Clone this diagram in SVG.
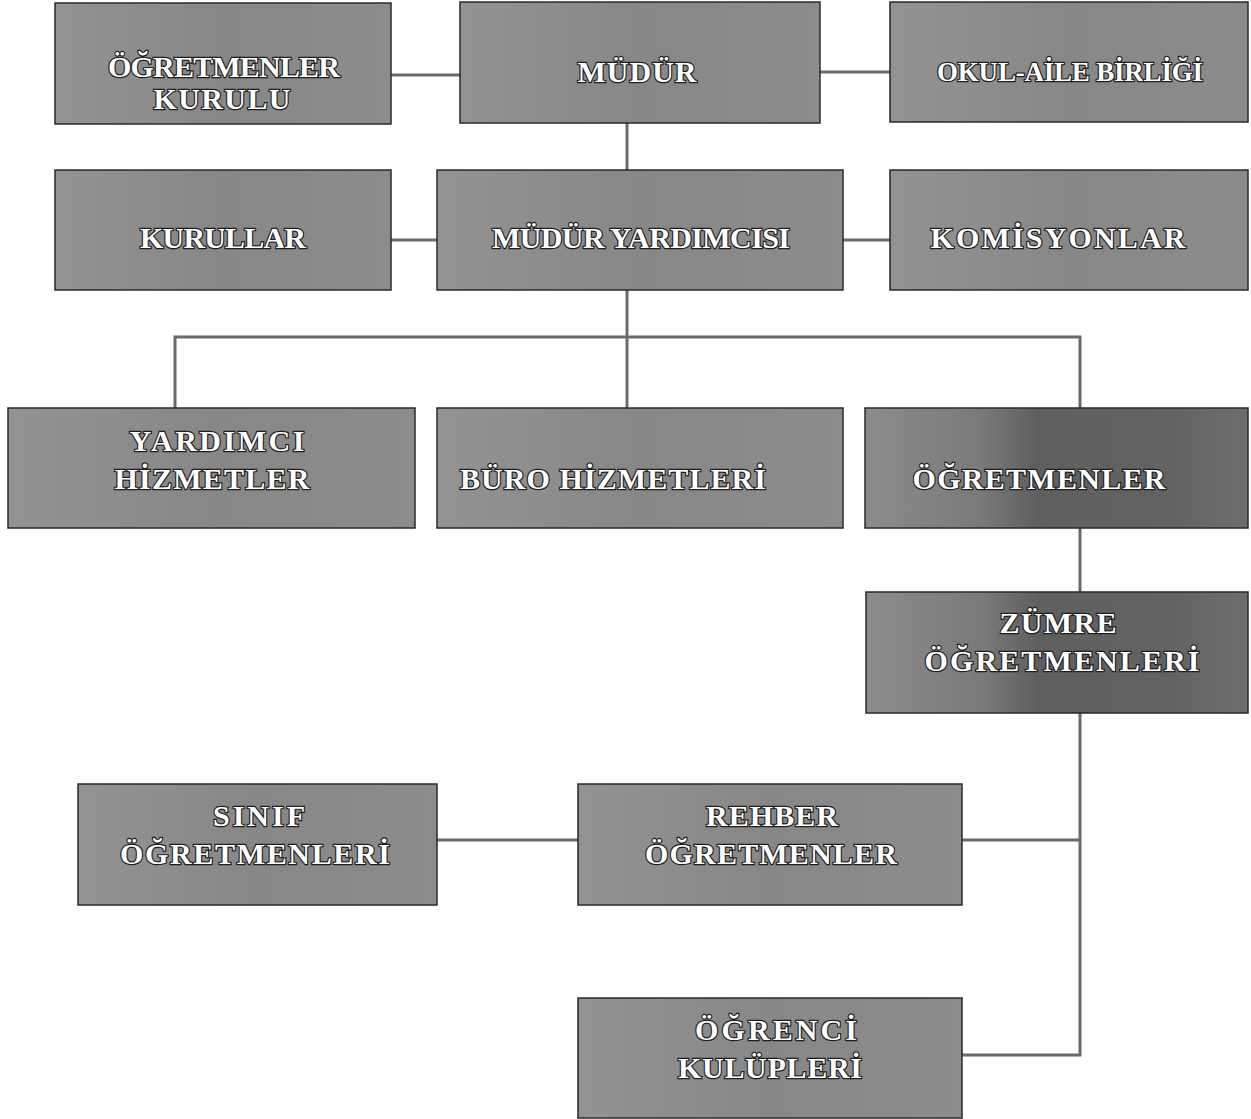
<svg xmlns="http://www.w3.org/2000/svg" width="1251" height="1119" viewBox="0 0 1251 1119">
<defs>
<linearGradient id="dark" x1="0" y1="0" x2="1" y2="0">
<stop offset="0" stop-color="#8c8c8c"/>
<stop offset="0.3" stop-color="#7a7a7a"/>
<stop offset="0.45" stop-color="#5f5f5f"/>
<stop offset="0.8" stop-color="#636363"/>
<stop offset="1" stop-color="#6e6e6e"/>
</linearGradient>
<linearGradient id="mid" x1="0" y1="0" x2="1" y2="0">
<stop offset="0" stop-color="#939393"/>
<stop offset="0.5" stop-color="#878787"/>
<stop offset="1" stop-color="#8c8c8c"/>
</linearGradient>
</defs>
<style>
.box{fill:url(#mid);stroke:#2a2a2a;stroke-width:1.5}
.dbox{fill:url(#dark);stroke:#2a2a2a;stroke-width:1.5}
.t{font-family:"Liberation Serif","Times New Roman",serif;font-weight:bold;font-size:30px;fill:#ffffff;stroke:#1e1e1e;stroke-width:2.4;paint-order:stroke fill;text-anchor:middle}
.c{fill:none;stroke:#6a6a6a;stroke-width:3}
</style>
<rect width="1251" height="1119" fill="#ffffff"/>
<g id="connectors">
<line class="c" x1="391" y1="75" x2="460" y2="75"/>
<line class="c" x1="820" y1="72" x2="890" y2="72"/>
<line class="c" x1="627" y1="123" x2="627" y2="170"/>
<line class="c" x1="391" y1="240" x2="437" y2="240"/>
<line class="c" x1="843" y1="240" x2="890" y2="240"/>
<line class="c" x1="627" y1="290" x2="627" y2="408"/>
<polyline class="c" points="175,408 175,337 1080,337 1080,408"/>
<line class="c" x1="1080" y1="528" x2="1080" y2="592"/>
<polyline class="c" points="1080,713 1080,1055 962,1055"/>
<line class="c" x1="962" y1="840" x2="1080" y2="840"/>
<line class="c" x1="437" y1="840" x2="578" y2="840"/>
</g>
<g id="ogretmenler-kurulu">
<rect class="box" x="55" y="3" width="336" height="121"/>
<text class="t" x="224" y="77" textLength="232" lengthAdjust="spacing">ÖĞRETMENLER</text>
<text class="t" x="222" y="109" textLength="137" lengthAdjust="spacing">KURULU</text>
</g>
<g id="mudur">
<rect class="box" x="460" y="2" width="360" height="121"/>
<text class="t" x="637" y="82" textLength="119" lengthAdjust="spacing">MÜDÜR</text>
</g>
<g id="okul-aile-birligi">
<rect class="box" x="890" y="2" width="358" height="120"/>
<text class="t" x="1070" y="81" textLength="266" lengthAdjust="spacing" style="font-size:27px">OKUL-AİLE BİRLİĞİ</text>
</g>
<g id="kurullar">
<rect class="box" x="55" y="170" width="336" height="120"/>
<text class="t" x="223" y="248" textLength="166" lengthAdjust="spacing">KURULLAR</text>
</g>
<g id="mudur-yardimcisi">
<rect class="box" x="437" y="170" width="406" height="120"/>
<text class="t" x="641" y="248" textLength="298" lengthAdjust="spacing">MÜDÜR YARDIMCISI</text>
</g>
<g id="komisyonlar">
<rect class="box" x="890" y="170" width="358" height="120"/>
<text class="t" x="1058" y="248" textLength="255" lengthAdjust="spacing">KOMİSYONLAR</text>
</g>
<g id="yardimci-hizmetler">
<rect class="box" x="8" y="408" width="407" height="120"/>
<text class="t" x="217" y="451" textLength="175" lengthAdjust="spacing">YARDIMCI</text>
<text class="t" x="212" y="489" textLength="195" lengthAdjust="spacing">HİZMETLER</text>
</g>
<g id="buro-hizmetleri">
<rect class="box" x="437" y="408" width="406" height="120"/>
<text class="t" x="613" y="489" textLength="306" lengthAdjust="spacing">BÜRO HİZMETLERİ</text>
</g>
<g id="ogretmenler">
<rect class="dbox" x="865" y="408" width="383" height="120"/>
<text class="t" x="1039" y="489" textLength="253" lengthAdjust="spacing">ÖĞRETMENLER</text>
</g>
<g id="zumre-ogretmenleri">
<rect class="dbox" x="866" y="592" width="382" height="121"/>
<text class="t" x="1058" y="633" textLength="117" lengthAdjust="spacing">ZÜMRE</text>
<text class="t" x="1062" y="671" textLength="275" lengthAdjust="spacing">ÖĞRETMENLERİ</text>
</g>
<g id="sinif-ogretmenleri">
<rect class="box" x="78" y="784" width="359" height="121"/>
<text class="t" x="259" y="826" textLength="92" lengthAdjust="spacing">SINIF</text>
<text class="t" x="255" y="864" textLength="270" lengthAdjust="spacing">ÖĞRETMENLERİ</text>
</g>
<g id="rehber-ogretmenler">
<rect class="box" x="578" y="784" width="384" height="121"/>
<text class="t" x="772" y="826" textLength="132" lengthAdjust="spacing">REHBER</text>
<text class="t" x="771" y="864" textLength="252" lengthAdjust="spacing">ÖĞRETMENLER</text>
</g>
<g id="ogrenci-kulupleri">
<rect class="box" x="578" y="998" width="384" height="120"/>
<text class="t" x="776" y="1040" textLength="162" lengthAdjust="spacing">ÖĞRENCİ</text>
<text class="t" x="770" y="1078" textLength="184" lengthAdjust="spacing">KULÜPLERİ</text>
</g>
</svg>
